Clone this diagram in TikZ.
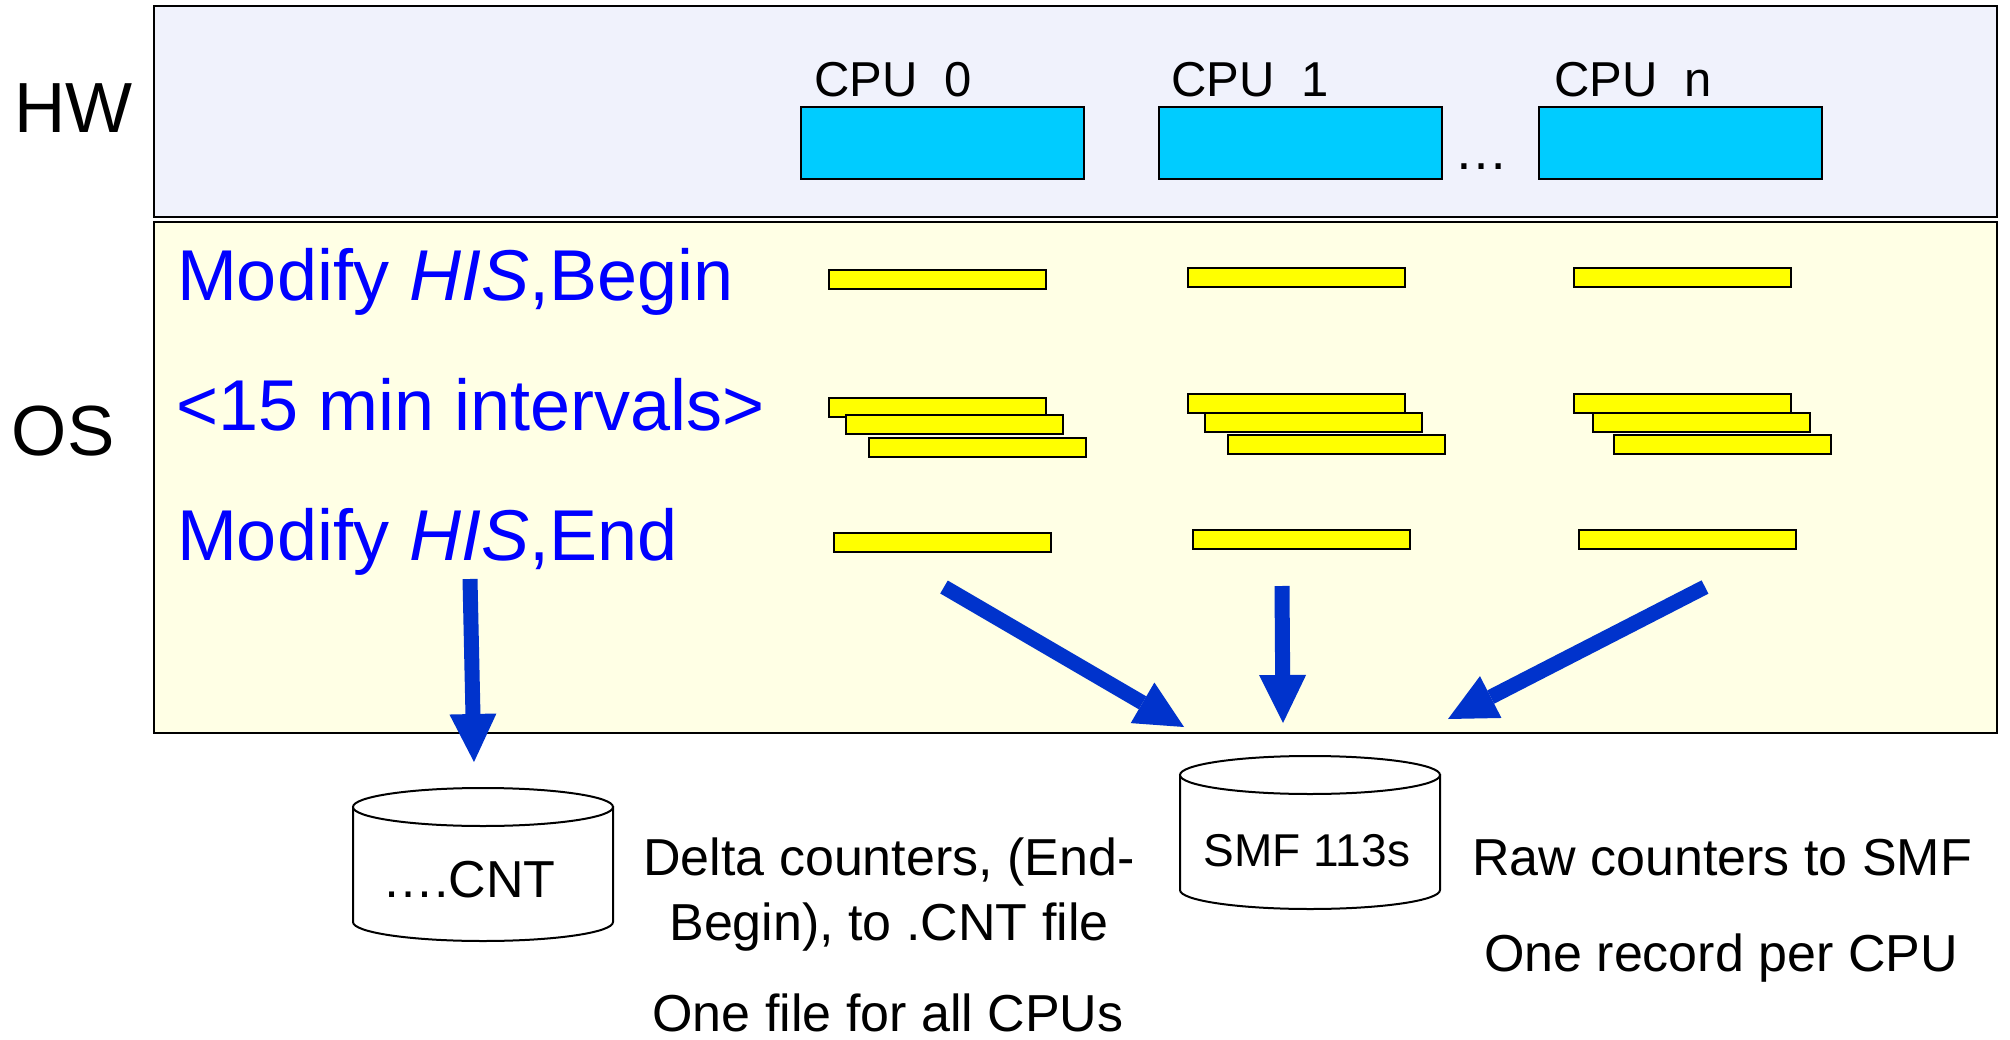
\documentclass[tikz,border=0pt]{standalone}
\usepackage{fontspec}
\setmainfont{Liberation Sans}
\usetikzlibrary{arrows.meta}

\definecolor{hwfill}{RGB}{240,242,252}
\definecolor{osfill}{RGB}{255,255,229}
\definecolor{cpucyan}{RGB}{0,204,255}
\definecolor{baryellow}{RGB}{255,255,0}
\definecolor{stepblue}{RGB}{0,0,255}
\definecolor{flowblue}{RGB}{0,51,204}

\newcommand\pxfont[1]{\fontsize{#1pt}{#1pt}\selectfont}

\begin{document}
\begin{tikzpicture}[x=1pt,y=-1pt,
  panel/.style={draw=black, line width=2.5pt, inner sep=0pt, minimum width=1843pt},
  cpubox/.style={draw=black, fill=cpucyan, line width=2pt, inner sep=0pt,
                 minimum width=283pt, minimum height=72pt, anchor=north west},
  bar/.style={draw=black, fill=baryellow, line width=2pt, inner sep=0pt,
              minimum width=217pt, minimum height=19pt, anchor=north west},
  txt/.style={inner sep=0pt, outer sep=0pt},
  layer/.style={txt, anchor=base west, font=\pxfont{71}},
  cpulabel/.style={txt, anchor=base west, font=\pxfont{49}},
  phase/.style={txt, anchor=base west, text=stepblue, font=\pxfont{72}},
  note/.style={txt, anchor=base, font=\pxfont{52}},
  drum/.style={draw=black, fill=white, line width=2pt},
  flow/.style={draw=flowblue, line width=15pt,
               -{Triangle[width=47pt,length=48pt,line width=0pt]}, fill=flowblue}
]
\useasboundingbox (0,0) rectangle (2010,1040);

% layer panels
\node[panel, fill=hwfill, minimum height=211pt] (hwpanel) at (1075.5,111.5) {};
\node[panel, fill=osfill, minimum height=511pt] (ospanel) at (1075.5,477.5) {};

\node[layer] (hw) at (14,133) {HW};
\node[layer] (os) at (12,455) {OS};

% processors
\node[cpubox] (cpu0) at (800,106) {};
\node[cpubox] (cpu1) at (1158,106) {};
\node[cpubox] (cpun) at (1538,106) {};
\node[cpulabel] (cpu0l) at (814,97) {CPU\ \ 0};
\node[cpulabel] (cpu1l) at (1171,97) {CPU\ \ 1};
\node[cpulabel] (cpunl) at (1554,97) {CPU\ \ n};
\node[txt, anchor=base, font=\pxfont{54}] (more) at (1481,170) {…};

% operator commands
\node[phase] (begin) at (177,301) {Modify \textit{HIS},Begin};
\node[phase] (intv)  at (176,430) {<15 min intervals>};
\node[phase] (end)   at (177,560) {Modify \textit{HIS},End};

% counter snapshots per processor
\node[bar] (b0) at (828,269) {};
\node[bar] (b1) at (1187,267) {};
\node[bar] (b2) at (1573,267) {};

\node[bar] (i0a) at (828,397) {};
\node[bar] (i0b) at (845,414) {};
\node[bar] (i0c) at (868,437) {};
\node[bar] (i1a) at (1187,393) {};
\node[bar] (i1b) at (1204,412) {};
\node[bar] (i1c) at (1227,434) {};
\node[bar] (i2a) at (1573,393) {};
\node[bar] (i2b) at (1592,412) {};
\node[bar] (i2c) at (1613,434) {};

\node[bar] (e0) at (833,532) {};
\node[bar] (e1) at (1192,529) {};
\node[bar] (e2) at (1578,529) {};

% data sets
\filldraw[drum] (353,807) -- (353,922)
  arc[start angle=180, end angle=360, x radius=130pt, y radius=19pt] -- (613,807) -- cycle;
\filldraw[drum] (483,807) ellipse[x radius=130pt, y radius=19pt];
\node[txt, anchor=base, font=\pxfont{52}] (cnt) at (469,897) {….CNT};

\filldraw[drum] (1180,775) -- (1180,890)
  arc[start angle=180, end angle=360, x radius=130pt, y radius=19pt] -- (1440,775) -- cycle;
\filldraw[drum] (1310,775) ellipse[x radius=130pt, y radius=19pt];
\node[txt, anchor=base, font=\pxfont{46}] (smf) at (1307,866) {SMF 113s};

% flows into the data sets
\coordinate (f1s) at (470,579);  \coordinate (f1t) at (474,762);
\coordinate (f2s) at (944,587);  \coordinate (f2t) at (1184,727);
\coordinate (f3s) at (1282,586); \coordinate (f3t) at (1283,723);
\coordinate (f4s) at (1705,587); \coordinate (f4t) at (1448,719);
\draw[flow] (f1s) -- (f1t);
\draw[flow] (f2s) -- (f2t);
\draw[flow] (f3s) -- (f3t);
\draw[flow] (f4s) -- (f4t);

% explanations
\node[note] (d1) at (889,875)  {Delta counters, (End-};
\node[note] (d2) at (889,940)  {Begin), to .CNT file};
\node[note, text depth=0pt] (d3) at (888,1031) {One file for all CPUs};
\node[note] (r1) at (1722,875) {Raw counters to SMF};
\node[note] (r2) at (1721,971) {One record per CPU};
\end{tikzpicture}
\end{document}
